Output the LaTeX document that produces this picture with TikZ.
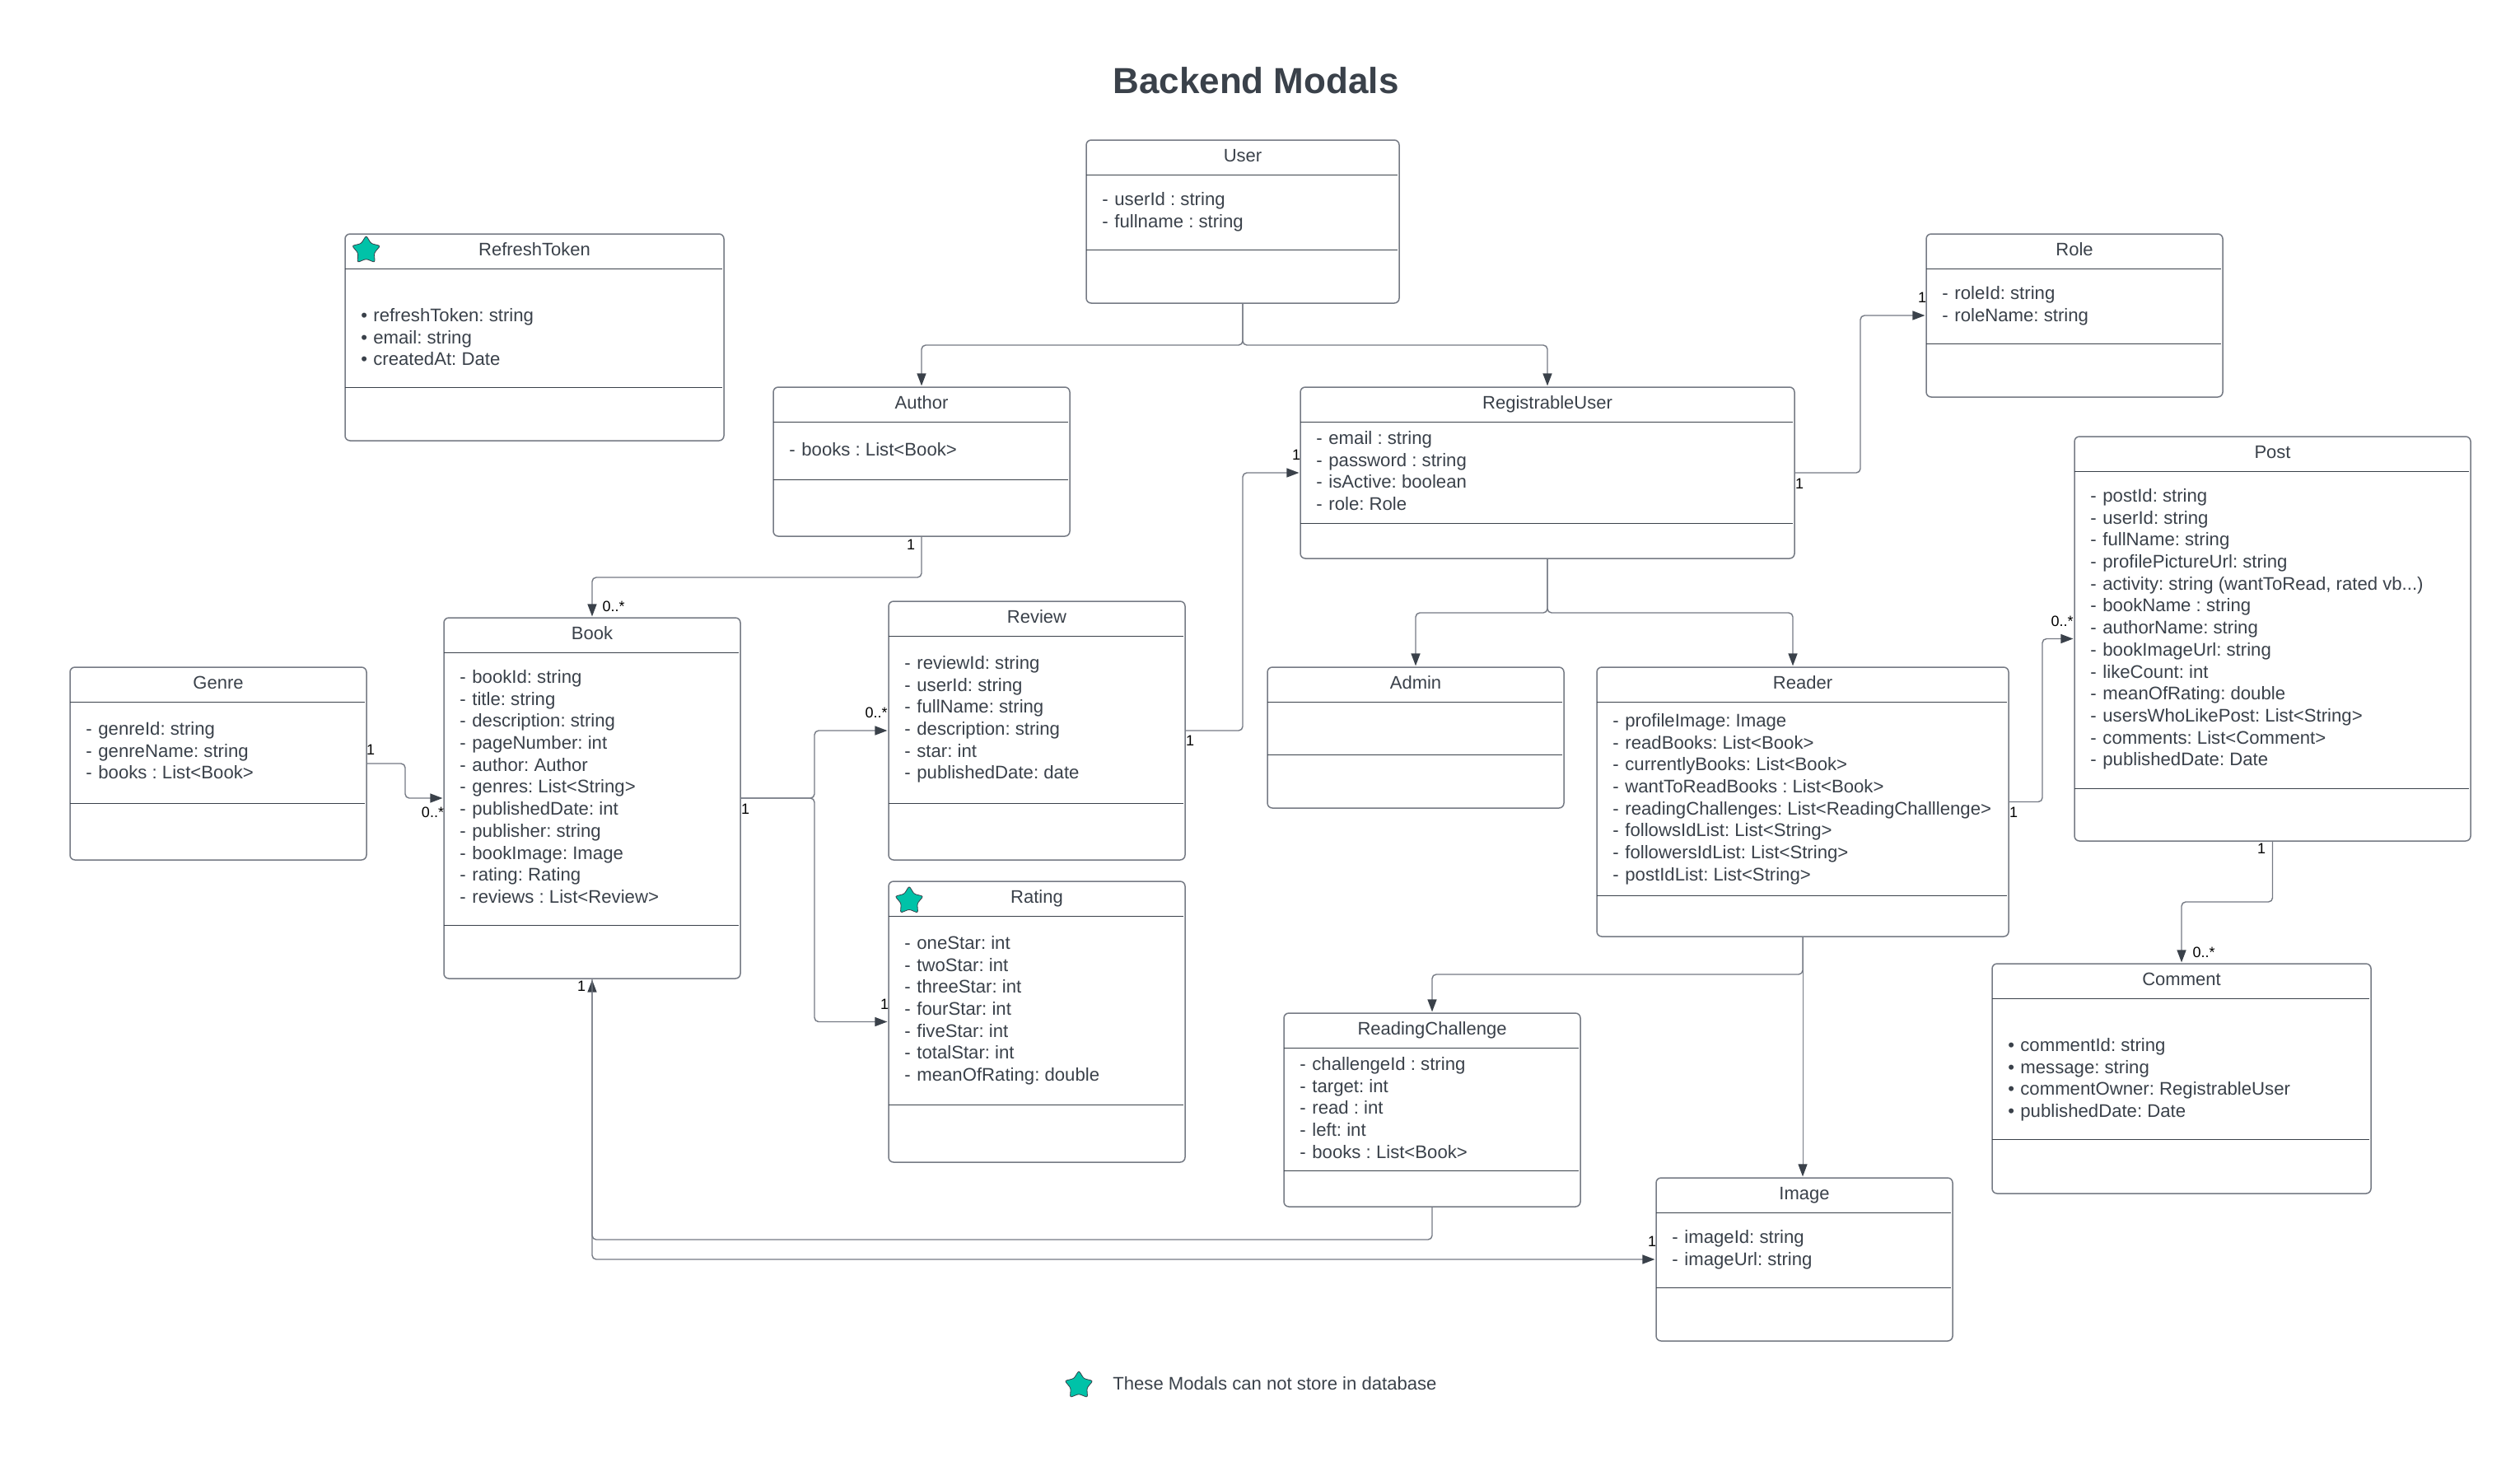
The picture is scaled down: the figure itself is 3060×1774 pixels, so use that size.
\documentclass[tikz,border=0pt]{standalone}
\usepackage{fontspec}
\setmainfont{Liberation Sans}
\usetikzlibrary{arrows.meta, shapes.geometric}
\definecolor{ink}{HTML}{3A414A}
\definecolor{edge}{HTML}{757A84}
\definecolor{mint}{HTML}{00C2A8}

\newcommand{\attr}[1]{\makebox[7.5pt][l]{-}#1}
\newcommand{\pnt}[1]{\makebox[7.5pt][l]{\textbullet}#1}

% name, left, top, right, bottom, head line, foot line, title
\newcommand{\modal}[8]{
  \node[modalbox, minimum width={(#4-#2)*0.5pt}, minimum height={(#5-#3)*0.5pt}] (#1) [at={({(#2+#4)/2}, {(#3+#5)/2})}] {};
  \node[modaltitle] (#1title) [at={({(#2+#4)/2}, #6-16)}] {#8};
  \draw[modalline] (#1.west |- 0,#6) -- (#1.east |- 0,#6);
  \draw[modalline] (#1.west |- 0,#7) -- (#1.east |- 0,#7);
}

\begin{document}
\frenchspacing
\begin{tikzpicture}[
      x = 0.5pt, y = -0.5pt, % one unit is one pixel of the drawing
      > = {Stealth[length=7.5pt, width=5.5pt, inset=0pt, color=ink]}, % arrow head style
      shorten > = 0.8pt, % don't touch arrow head to node
      modalbox/.style = {draw = edge, line width = 0.75pt, fill = white, rounded corners = 3pt, inner sep = 0pt, outer sep = 0pt},
      modalline/.style = {draw = ink, line width = 0.5pt},
      modaltitle/.style = {anchor = base, inner sep = 0pt, text = ink, font = \fontsize{11}{13.35}\selectfont},
      modallist/.style = {anchor = north west, yshift = -1pt, inner sep = 0pt, align = left, text = ink, font = \fontsize{11.08}{13.35}\selectfont, execute at begin node = \strut},
      mult/.style = {inner sep = 0pt, text = black, font = \fontsize{9}{11}\selectfont},
      link/.style = {draw = edge, line width = 0.7pt, rounded corners = 2.5pt},
      flag/.style = {star, star points = 5, star point ratio = 1.75, draw = ink, line width = 0.4pt, fill = mint, rounded corners = 1.2pt, minimum size = 18pt, inner sep = 0pt},
    ]

    \useasboundingbox (0, 0) rectangle (3060, 1774);

    \node[anchor = base, inner sep = 0pt, text = ink, font = \fontsize{22}{26}\selectfont\bfseries] (heading) [at={(1525, 113)}] {Backend Modals};

    \modal{user}{1319}{170}{1699}{368}{212}{303}{User}
    \modal{token}{419}{284}{879}{535}{326}{470}{RefreshToken}
    \modal{author}{939}{470}{1299}{651}{512}{582}{Author}
    \modal{reguser}{1579}{470}{2179}{678}{512}{635}{RegistrableUser}
    \modal{role}{2339}{284}{2699}{482}{326}{417}{Role}
    \modal{post}{2519}{530}{3000}{1021}{572}{957}{Post}
    \modal{genre}{85}{810}{445}{1044}{852}{975}{Genre}
    \modal{book}{539}{750}{899}{1188}{792}{1123}{Book}
    \modal{review}{1079}{730}{1439}{1044}{772}{975}{Review}
    \modal{rating}{1079}{1070}{1439}{1411}{1112}{1341}{Rating}
    \modal{admin}{1539}{810}{1899}{981}{852}{916}{Admin}
    \modal{reader}{1939}{810}{2439}{1137}{852}{1087}{Reader}
    \modal{challenge}{1559}{1230}{1919}{1465}{1272}{1421}{ReadingChallenge}
    \modal{image}{2011}{1430}{2371}{1628}{1472}{1563}{Image}
    \modal{comment}{2419}{1170}{2879}{1449}{1212}{1383}{Comment}

    \node[modallist] (userlist) [at={(1338, 231)}] {\attr{userId : string}\\ \attr{fullname : string}};
    \node[modallist] (tokenlist) [at={(438, 372)}] {\pnt{refreshToken: string}\\ \pnt{email: string}\\ \pnt{createdAt: Date}};
    \node[modallist] (authorlist) [at={(958, 532)}] {\attr{books : List<Book>}};
    \node[modallist] (reguserlist) [at={(1598, 521)}] {\attr{email : string}\\ \attr{password : string}\\ \attr{isActive: boolean}\\ \attr{role: Role}};
    \node[modallist] (rolelist) [at={(2358, 345)}] {\attr{roleId: string}\\ \attr{roleName: string}};
    \node[modallist] (postlist) [at={(2538, 591)}] {\attr{postId: string}\\ \attr{userId: string}\\ \attr{fullName: string}\\ \attr{profilePictureUrl: string}\\ \attr{activity: string (wantToRead, rated vb...)}\\ \attr{bookName : string}\\ \attr{authorName: string}\\ \attr{bookImageUrl: string}\\ \attr{likeCount: int}\\ \attr{meanOfRating: double}\\ \attr{usersWhoLikePost: List<String>}\\ \attr{comments: List<Comment>}\\ \attr{publishedDate: Date}};
    \node[modallist] (genrelist) [at={(104, 874)}] {\attr{genreId: string}\\ \attr{genreName: string}\\ \attr{books : List<Book>}};
    \node[modallist] (booklist) [at={(558, 811)}] {\attr{bookId: string}\\ \attr{title: string}\\ \attr{description: string}\\ \attr{pageNumber: int}\\ \attr{author: Author}\\ \attr{genres: List<String>}\\ \attr{publishedDate: int}\\ \attr{publisher: string}\\ \attr{bookImage: Image}\\ \attr{rating: Rating}\\ \attr{reviews : List<Review>}};
    \node[modallist] (reviewlist) [at={(1098, 794)}] {\attr{reviewId: string}\\ \attr{userId: string}\\ \attr{fullName: string}\\ \attr{description: string}\\ \attr{star: int}\\ \attr{publishedDate: date}};
    \node[modallist] (ratinglist) [at={(1098, 1134)}] {\attr{oneStar: int}\\ \attr{twoStar: int}\\ \attr{threeStar: int}\\ \attr{fourStar: int}\\ \attr{fiveStar: int}\\ \attr{totalStar: int}\\ \attr{meanOfRating: double}};
    \node[modallist] (readerlist) [at={(1958, 864)}] {\attr{profileImage: Image}\\ \attr{readBooks: List<Book>}\\ \attr{currentlyBooks: List<Book>}\\ \attr{wantToReadBooks : List<Book>}\\ \attr{readingChallenges: List<ReadingChalllenge>}\\ \attr{followsIdList: List<String>}\\ \attr{followersIdList: List<String>}\\ \attr{postIdList: List<String>}};
    \node[modallist] (challengelist) [at={(1578, 1281)}] {\attr{challengeId : string}\\ \attr{target: int}\\ \attr{read : int}\\ \attr{left: int}\\ \attr{books : List<Book>}};
    \node[modallist] (imagelist) [at={(2030, 1491)}] {\attr{imageId: string}\\ \attr{imageUrl: string}};
    \node[modallist] (commentlist) [at={(2438, 1258)}] {\pnt{commentId: string}\\ \pnt{message: string}\\ \pnt{commentOwner: RegistrableUser}\\ \pnt{publishedDate: Date}};

    \node[flag] (tokenflag) [at={(444.6, 304)}] {};
    \node[flag] (ratingflag) [at={(1104, 1093.7)}] {};
    \node[flag] (legendflag) [at={(1310, 1682)}] {};
    \node[anchor = base west, inner sep = 0pt, text = ink, font = \fontsize{11.05}{13.35}\selectfont] (legend) [at={(1351, 1687)}] {These Modals can not store in database};

    \coordinate (userfork) at (1509, 419);
    \coordinate (authorfork) at (1119, 701);
    \coordinate (bookfork) at (989, 969);
    \coordinate (reguserfork) at (1879, 744);
    \coordinate (readerin) at (2177, 810);
    \coordinate (readerfork) at (2189, 1183);
    \coordinate (postfork) at (2759.5, 1095);
    \coordinate (reviewfork) at (1509, 887);
    \coordinate (rolefork) at (2259, 574);
    \coordinate (readerpost) at (2480, 973.5);
    \coordinate (genrefork) at (492, 927);
    \coordinate (bookunder) at (719, 1505);

    \path[link, ->] (user.south) -- (userfork) -| (author.north);
    \path[link, ->] (user.south) -- (userfork) -| (reguser.north);
    \path[link, ->] (author.south) -- (authorfork) -| (book.north);
    \path[link, ->] (genre.east) -- (genrefork) |- (book.west);
    \path[link, ->] (book.east) -- (bookfork) |- (review.west);
    \path[link, ->] (book.east) -- (bookfork) |- (rating.west);
    \path[link, ->] (review.east) -- (reviewfork) |- (reguser.west);
    \path[link, ->] (reguser.east) -- (rolefork) |- (role.west);
    \path[link, ->] (reguser.south) -- (reguserfork) -| (admin.north);
    \path[link, ->] (reguser.south) -- (reguserfork) -| (readerin);
    \path[link, ->] (reader.east) -- (readerpost) |- (post.west);
    \path[link, ->] (post.south) -- (postfork) -| (comment.north);
    \path[link, ->] (reader.south) -- (readerfork) -| (challenge.north);
    \path[link, ->, line width = 0.5pt] (reader.south) -- (reader.south |- image.north);
    \path[link, ->] (challenge.south) |- (bookunder) -- (book.south);
    \path[link, ->] (book.south) |- (image.west);

    \node[mult] (authorone) [at={(1106, 661)}] {1};
    \node[mult] (bookmany) [at={(745, 736)}] {0..*};
    \node[mult] (genreone) [at={(450, 910)}] {1};
    \node[mult] (genremany) [at={(525.5, 986)}] {0..*};
    \node[mult] (bookone) [at={(905, 982)}] {1};
    \node[mult] (bookunderone) [at={(706, 1197)}] {1};
    \node[mult] (reviewmany) [at={(1064, 865)}] {0..*};
    \node[mult] (reviewone) [at={(1445, 899)}] {1};
    \node[mult] (ratingone) [at={(1074, 1219)}] {1};
    \node[mult] (reguserin) [at={(1574, 552)}] {1};
    \node[mult] (reguserout) [at={(2185, 587)}] {1};
    \node[mult] (roleone) [at={(2334, 361)}] {1};
    \node[mult] (readerone) [at={(2445, 986)}] {1};
    \node[mult] (postmany) [at={(2504, 754)}] {0..*};
    \node[mult] (postone) [at={(2746, 1030)}] {1};
    \node[mult] (commentmany) [at={(2676, 1156)}] {0..*};
    \node[mult] (imageone) [at={(2006, 1507)}] {1};

  \end{tikzpicture}
\end{document}
